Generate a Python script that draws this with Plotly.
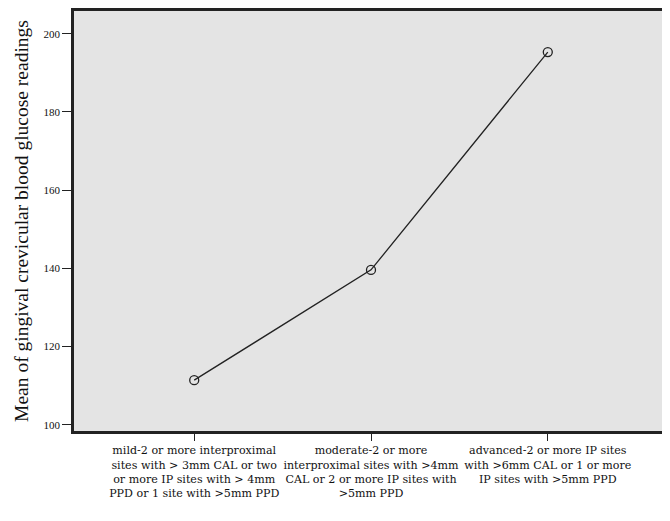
import plotly.graph_objects as go

categories = [
    "mild-2 or more interproximal<br>sites with > 3mm CAL or two<br>or more IP sites with > 4mm<br>PPD or 1 site with >5mm PPD",
    "moderate-2 or more<br>interproximal sites with >4mm<br>CAL or 2 or more IP sites with<br>>5mm PPD",
    "advanced-2 or more IP sites<br>with >6mm CAL or 1 or more<br>IP sites with >5mm PPD<br> ",
]
means = [111.4, 139.6, 195.3]
y_ticks = [100, 120, 140, 160, 180, 200]

fig = go.Figure()
fig.add_trace(go.Scatter(
    x=[0, 1, 2], y=means, mode="lines+markers",
    line=dict(color="#222222", width=1.3),
    marker=dict(symbol="circle-open", size=9, color="#222222", line=dict(width=1.3)),
    showlegend=False,
))

serif = "Liberation Serif, DejaVu Serif, serif"
wide_serif = "DejaVu Serif, Liberation Serif, serif"
# page body has an 8px default margin; figure sized to fill the remaining window
fig.update_layout(
    width=662, height=513,
    margin=dict(l=66, r=2, t=3, b=90, autoexpand=False),
    paper_bgcolor="white", plot_bgcolor="#e4e4e4",
    font=dict(family=serif, color="#222222"),
    xaxis=dict(
        range=[-0.68, 2.68], tickmode="array", tickvals=[0, 1, 2], ticktext=categories,
        showgrid=False, zeroline=False, showline=True, mirror=True, linewidth=2.5, linecolor="#222222",
        ticks="outside", ticklen=7, tickwidth=1, tickcolor="#222222", automargin=False, tickangle=0,
        tickfont=dict(size=11.1, family=wide_serif, color="#111111"),
    ),
    yaxis=dict(
        range=[98.4, 205.8], tickmode="array", tickvals=y_ticks,
        showgrid=False, zeroline=False, showline=True, mirror=True, linewidth=2.5, linecolor="#222222",
        ticks="outside", ticklen=9, tickwidth=1, tickcolor="#222222", automargin=False,
        tickfont=dict(size=11, family=serif, color="#111111"),
        title=dict(text="Mean of gingival crevicular blood glucose readings",
                   font=dict(size=19.5, family=serif, color="#111111"), standoff=10),
    ),
)
fig.write_html("out.html")
